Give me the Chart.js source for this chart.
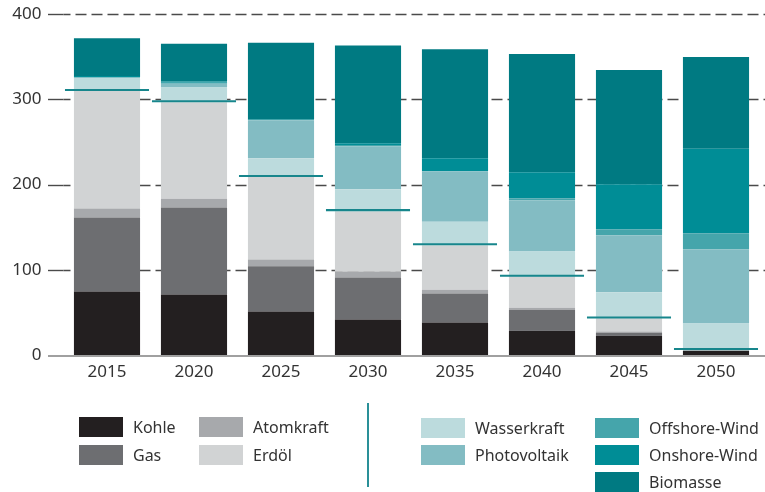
<!DOCTYPE html>
<html>
<head>
<meta charset="utf-8">
<script src="https://cdn.jsdelivr.net/npm/chart.js@4/dist/chart.umd.min.js"></script>
<style>
  html, body { margin: 0; padding: 0; background: #fff; }
  #wrap { position: relative; width: 765px; height: 492px; overflow: hidden; }
  #c { position: absolute; left: 0; top: 0; }
  .lg { position: absolute; font-family: "Noto Sans", sans-serif; font-size: 16px; color: #333; }
  .box { position: absolute; width: 44px; height: 20px; }
  .txt { position: absolute; line-height: 20px; white-space: nowrap; }
  #sep { position: absolute; left: 367px; top: 403px; width: 1.5px; height: 84px; background: #2a9098; }
</style>
</head>
<body>
<div id="wrap">
  <canvas id="c" width="765" height="492"></canvas>
  <div id="sep"></div>
  <div id="legend"></div>
</div>
<script>
const years = ["2015", "2020", "2025", "2030", "2035", "2040", "2045", "2050"];
const yTicks = [0, 100, 200, 300, 400];

const kohle        = [74.5, 71, 51, 41.5, 38, 28.5, 22.5, 5];
const gas          = [87, 102, 53, 49.5, 34, 24.5, 3.5, 0];
const atomkraft    = [10.5, 10.5, 8, 7, 4.5, 2.5, 1.5, 0];
const erdoel       = [138, 113, 97, 70.5, 52, 36, 15.5, 0];
const wasserkraft  = [14.5, 17.5, 22, 26, 28, 30, 30.5, 32];
const photovoltaik = [1, 4.5, 44.5, 50.5, 59, 60, 67, 87];
const offshore     = [0.5, 1, 0.5, 1.5, 0.5, 2.5, 7, 19];
const onshore      = [1.5, 1.5, 0.5, 2, 15, 30.5, 53, 99];
const biomasse     = [44.5, 44.5, 90, 115, 128, 139, 134, 108];
const markerLine   = [311, 298, 210, 170, 130, 93, 44, 7];

const series = [
  { label: "Kohle", data: kohle, color: "#231f20" },
  { label: "Gas", data: gas, color: "#6d6e71" },
  { label: "Atomkraft", data: atomkraft, color: "#a7a9ac" },
  { label: "Erdöl", data: erdoel, color: "#d1d3d4" },
  { label: "Wasserkraft", data: wasserkraft, color: "#bcdbdd" },
  { label: "Photovoltaik", data: photovoltaik, color: "#83bcc3" },
  { label: "Offshore-Wind", data: offshore, color: "#45a5ab" },
  { label: "Onshore-Wind", data: onshore, color: "#008d96" },
  { label: "Biomasse", data: biomasse, color: "#007a82" }
];

const datasets = series.map(s => ({
  type: "bar",
  label: s.label,
  data: s.data,
  backgroundColor: s.color,
  borderWidth: 0,
  stack: "mix",
  barPercentage: 0.76,
  categoryPercentage: 1.0
}));
// thin horizontal marker per year (floating bar ~2px thick, centred on the value)
const halfThick = 1.2;
datasets.push({
  type: "bar",
  label: "Marke",
  data: markerLine.map(v => [v - halfThick, v + halfThick]),
  stack: "marker",
  grouped: false,
  order: -1,
  backgroundColor: "#17868c",
  borderWidth: 0,
  barPercentage: 0.966,
  categoryPercentage: 1.0
});

const gridPlugin = {
  id: "customGrid",
  beforeDatasetsDraw(chart) {
    const ctx = chart.ctx;
    const y = chart.scales.y;
    const left = 48, right = 765, ca = chart.chartArea.left;
    ctx.save();
    yTicks.forEach(v => {
      if (v === 0) return;
      const py = Math.round(y.getPixelForValue(v)) + 0.5;
      ctx.strokeStyle = "#4a4a4a";
      ctx.lineWidth = 1.4;
      ctx.setLineDash([]);
      ctx.beginPath(); ctx.moveTo(left, py); ctx.lineTo(ca, py); ctx.stroke();
      ctx.setLineDash([11, 5]);
      ctx.lineDashOffset = 4;
      ctx.beginPath(); ctx.moveTo(ca, py); ctx.lineTo(right, py); ctx.stroke();
    });
    ctx.restore();
  },
  afterDatasetsDraw(chart) {
    const ctx = chart.ctx;
    const y = chart.scales.y;
    const py = y.getPixelForValue(0) + 1;
    ctx.save();
    ctx.strokeStyle = "#a0a0a0";
    ctx.lineWidth = 2;
    ctx.beginPath(); ctx.moveTo(48, py); ctx.lineTo(765, py); ctx.stroke();
    ctx.restore();
  }
};

new Chart(document.getElementById("c"), {
  type: "bar",
  data: { labels: years, datasets },
  plugins: [gridPlugin],
  options: {
    responsive: false,
    animation: false,
    events: [],
    layout: { padding: { top: 14.3, right: 5.5, bottom: 102.7, left: 0 } },
    plugins: { legend: { display: false }, tooltip: { enabled: false } },
    scales: {
      x: {
        stacked: true,
        grid: { display: false, drawTicks: false },
        border: { display: false },
        ticks: { color: "#333", font: { family: "Noto Sans", size: 17 }, padding: 7 }
      },
      y: {
        stacked: true,
        min: 0, max: 400,
        grid: { display: false, drawTicks: false },
        border: { display: false },
        afterFit(scale) { scale.width = 63.5; scale.paddingTop = 0; scale.paddingBottom = 0; },
        ticks: { stepSize: 100, color: "#333", font: { family: "Noto Sans", size: 17 }, padding: 22 }
      }
    }
  }
});

// HTML legend
const legendPos = [
  { i: 0, x: 79, y: 417 }, { i: 1, x: 79, y: 445 },
  { i: 2, x: 199, y: 417 }, { i: 3, x: 199, y: 445 },
  { i: 4, x: 421, y: 418 }, { i: 5, x: 421, y: 445 },
  { i: 6, x: 595, y: 418 }, { i: 7, x: 595, y: 445 }, { i: 8, x: 595, y: 472 }
];
const lg = document.getElementById("legend");
legendPos.forEach(p => {
  const s = series[p.i];
  const b = document.createElement("div");
  b.className = "lg box";
  b.style.left = p.x + "px"; b.style.top = p.y + "px"; b.style.background = s.color;
  lg.appendChild(b);
  const t = document.createElement("div");
  t.className = "lg txt";
  t.style.left = (p.x + 54) + "px"; t.style.top = p.y + "px";
  t.textContent = s.label;
  lg.appendChild(t);
});
</script>
</body>
</html>
